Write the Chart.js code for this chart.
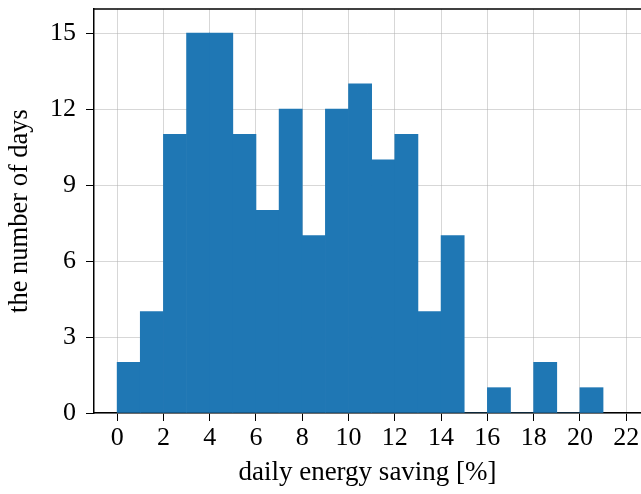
<!DOCTYPE html>
<html>
<head>
<meta charset="utf-8">
<script src="https://cdn.jsdelivr.net/npm/chart.js@4/dist/chart.umd.min.js"></script>
<style>
  html, body { margin: 0; padding: 0; background: #fff; overflow: hidden; }
  #wrap { width: 641px; height: 494px; }
</style>
</head>
<body>
<div id="wrap"><canvas id="c" width="641" height="494"></canvas></div>
<script>
// histogram bins (left edges, width 1) and day counts
const binEdges = [0, 1, 2, 3, 4, 5, 6, 7, 8, 9, 10, 11, 12, 13, 14, 15, 16, 17, 18, 19, 20]
const dayCounts = [2, 4, 11, 15, 15, 11, 8, 12, 7, 12, 13, 10, 11, 4, 7, 0, 1, 0, 2, 0, 1]
const xTicks = [0, 2, 4, 6, 8, 10, 12, 14, 16, 18, 20, 22]
const yTicks = [0, 3, 6, 9, 12, 15]

const serif = '"Liberation Serif", "Times New Roman", serif'
const gridColor = 'rgba(176, 176, 176, 0.5)'

// top spine
const frame = {
  id: 'frame',
  afterDraw(chart) {
    const { ctx, chartArea } = chart
    ctx.save()
    ctx.strokeStyle = '#000'
    ctx.lineWidth = 1.5
    ctx.beginPath()
    ctx.moveTo(chartArea.left, chartArea.top)
    ctx.lineTo(chartArea.right, chartArea.top)
    ctx.stroke()
    ctx.restore()
  }
}

new Chart(document.getElementById('c'), {
  type: 'bar',
  data: {
    datasets: [{
      data: binEdges.map((e, i) => ({ x: e + 0.5, y: dayCounts[i] })),
      backgroundColor: '#1f77b4',
      borderWidth: 0,
      barPercentage: 1,
      categoryPercentage: 1
    }]
  },
  plugins: [frame],
  options: {
    responsive: false,
    animation: false,
    layout: { padding: { top: 9, right: 0, left: 0, bottom: 0 } },
    plugins: { legend: { display: false }, tooltip: { enabled: false } },
    scales: {
      x: {
        type: 'linear',
        min: -1,
        max: 22.64,
        offset: false,
        z: 1,
        afterBuildTicks: (s) => { s.ticks = xTicks.map(v => ({ value: v })) },
        afterFit: (s) => { s.height = 81; s.paddingLeft = 0; s.paddingRight = 0 },
        ticks: { color: '#000', font: { family: serif, size: 26 }, padding: 2, maxRotation: 0, autoSkip: false },
        grid: { color: gridColor, tickColor: '#000', tickLength: 8, lineWidth: 1, offset: false },
        border: { display: true, color: '#000', width: 1.5 },
        title: { display: true, text: 'daily energy saving [%]', color: '#000', font: { family: serif, size: 27 }, padding: { top: 0, bottom: 5 } }
      },
      y: {
        min: 0,
        max: 15.95,
        z: 1,
        afterBuildTicks: (s) => { s.ticks = yTicks.map(v => ({ value: v })) },
        afterFit: (s) => { s.width = 94; s.paddingTop = 0; s.paddingBottom = 0 },
        ticks: { color: '#000', font: { family: serif, size: 26 }, padding: 10 },
        grid: { color: gridColor, tickColor: '#000', tickLength: 8, lineWidth: 1 },
        border: { display: true, color: '#000', width: 1.5 },
        title: { display: true, text: 'the number of days', color: '#000', font: { family: serif, size: 26.5 }, padding: { top: 4, bottom: 4 } }
      }
    }
  }
})
</script>
</body>
</html>
